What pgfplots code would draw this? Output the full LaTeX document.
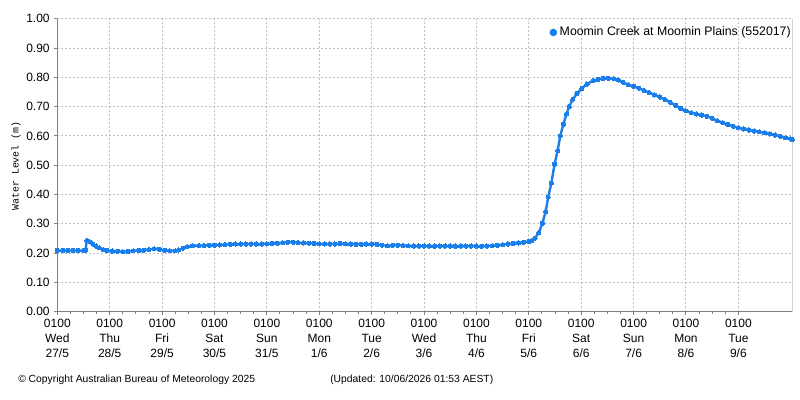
\documentclass[border=0pt]{standalone}
\usepackage{pgfplots}
\pgfplotsset{compat=1.18}
\usepackage{fontspec}
\setmainfont{Liberation Sans}
\setmonofont{Liberation Mono}
\definecolor{bomblue}{HTML}{1A7FEA}
\definecolor{axgray}{HTML}{808080}
\definecolor{gridgray}{HTML}{C0C0C0}
\pgfplotstableread{
day level
0.00 0.209
0.10 0.209
0.20 0.209
0.30 0.209
0.40 0.209
0.50 0.209
0.54 0.210
0.56 0.243
0.62 0.239
0.68 0.231
0.74 0.224
0.80 0.218
0.88 0.212
0.95 0.209
1.05 0.207
1.15 0.206
1.25 0.205
1.35 0.206
1.45 0.208
1.55 0.209
1.65 0.210
1.75 0.212
1.85 0.215
1.95 0.213
2.05 0.210
2.15 0.208
2.25 0.208
2.32 0.211
2.40 0.217
2.48 0.222
2.58 0.225
2.70 0.226
2.80 0.226
2.90 0.227
3.00 0.227
3.10 0.228
3.20 0.229
3.30 0.230
3.40 0.231
3.50 0.231
3.60 0.231
3.70 0.231
3.80 0.231
3.90 0.231
4.00 0.232
4.10 0.233
4.20 0.234
4.30 0.236
4.40 0.237
4.50 0.237
4.60 0.236
4.70 0.235
4.80 0.234
4.90 0.233
5.00 0.232
5.10 0.231
5.20 0.231
5.30 0.231
5.40 0.233
5.50 0.232
5.60 0.231
5.70 0.230
5.80 0.230
5.90 0.231
6.00 0.231
6.10 0.230
6.20 0.227
6.30 0.225
6.40 0.227
6.50 0.227
6.60 0.226
6.70 0.225
6.80 0.224
6.90 0.224
7.00 0.224
7.10 0.224
7.20 0.224
7.30 0.224
7.40 0.224
7.50 0.224
7.60 0.224
7.70 0.224
7.80 0.224
7.90 0.224
8.00 0.224
8.10 0.223
8.20 0.224
8.30 0.225
8.40 0.227
8.50 0.229
8.60 0.231
8.70 0.233
8.80 0.235
8.90 0.237
9.00 0.240
9.06 0.243
9.12 0.251
9.19 0.270
9.26 0.302
9.32 0.342
9.37 0.391
9.43 0.439
9.49 0.503
9.55 0.550
9.60 0.600
9.66 0.640
9.72 0.675
9.77 0.700
9.84 0.725
9.92 0.745
10.01 0.762
10.11 0.777
10.23 0.789
10.32 0.793
10.42 0.796
10.52 0.797
10.62 0.795
10.71 0.791
10.80 0.783
10.90 0.775
11.00 0.769
11.10 0.763
11.20 0.755
11.30 0.748
11.40 0.740
11.50 0.733
11.60 0.724
11.70 0.715
11.80 0.705
11.90 0.694
12.00 0.686
12.10 0.679
12.20 0.675
12.30 0.671
12.40 0.667
12.50 0.660
12.60 0.652
12.70 0.645
12.80 0.639
12.90 0.633
13.00 0.628
13.10 0.624
13.20 0.620
13.30 0.617
13.40 0.614
13.50 0.611
13.60 0.607
13.70 0.603
13.80 0.599
13.90 0.594
14.00 0.590
14.03 0.588
}\leveldata
\begin{document}
\begin{tikzpicture}
\useasboundingbox (0,0) rectangle (600pt,300pt);
\begin{axis}[
  at={(43pt,66.2pt)}, anchor=south west,
  width=551.25pt, height=219.75pt, scale only axis,
  xmin=0, xmax=14.03, ymin=0, ymax=1,
  axis x line*=bottom, axis y line*=left,
  axis line style={axgray, line width=0.75pt, -},
  every outer x axis line/.append style={-},
  every outer y axis line/.append style={-},
  tick align=outside,
  major tick length=2.25pt, minor tick length=1.5pt,
  tick style={axgray, line width=0.75pt},
  xtick={0,1,...,13},
  minor x tick num=3,
  xticklabels={{0100\\Wed\\27/5},{0100\\Thu\\28/5},{0100\\Fri\\29/5},{0100\\Sat\\30/5},{0100\\Sun\\31/5},{0100\\Mon\\1/6},{0100\\Tue\\2/6},{0100\\Wed\\3/6},{0100\\Thu\\4/6},{0100\\Fri\\5/6},{0100\\Sat\\6/6},{0100\\Sun\\7/6},{0100\\Mon\\8/6},{0100\\Tue\\9/6}},
  xticklabel style={align=center, font=\fontsize{9}{11.3}\selectfont},
  ytick={0,0.1,...,1.0},
  yticklabel style={font=\fontsize{9}{10}\selectfont, /pgf/number format/.cd, fixed, fixed zerofill, precision=2, assume math mode=true},
  grid=major,
  major grid style={gridgray, line width=0.75pt, dash pattern=on 1.5pt off 1.5pt},
  legend style={at={(1,1)}, anchor=north east, draw=none, fill=none, font=\fontsize{9.25}{10}\selectfont, inner sep=1pt, yshift=-3pt, xshift=2pt},
  legend cell align=left,
  legend image code/.code={\fill[bomblue] (0.2em,0) circle (1.9pt);},
]
\addplot[bomblue, line width=1.8pt, line join=round, mark=*, mark size=1.6pt, mark options={fill=bomblue, draw=bomblue, line width=0pt}] table[x=day, y=level] {\leveldata};
\addlegendentry{Moomin Creek at Moomin Plains (552017)}
\draw[axgray, line width=0.75pt] (rel axis cs:1,0) -- (rel axis cs:1,1);
\end{axis}
\node[rotate=90, font=\ttfamily\fontsize{7.4}{8}\selectfont] at (12pt,175.5pt) {Water Level (m)};
\node[anchor=west, inner sep=0pt, font=\fontsize{7.75}{8}\selectfont] at (13.5pt,15pt) {© Copyright Australian Bureau of Meteorology 2025};
\node[anchor=west, inner sep=0pt, font=\fontsize{7.75}{8}\selectfont] at (247.5pt,15pt) {(Updated: 10/06/2026 01:53 AEST)};
\end{tikzpicture}
\end{document}
